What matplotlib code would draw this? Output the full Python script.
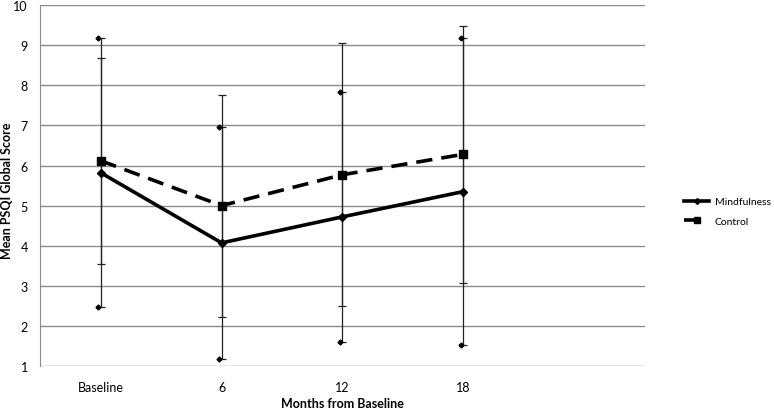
import matplotlib
matplotlib.use("Agg")
import matplotlib.pyplot as plt
from matplotlib.lines import Line2D

plt.rcParams['font.family'] = ['Lato', 'DejaVu Sans']

categories = ["Baseline", "6", "12", "18"]
mind_mean = [5.82, 4.07, 4.72, 5.35]
mind_sd = [3.36, 2.90, 3.12, 3.82]
ctrl_mean = [6.12, 5.00, 5.77, 6.28]
ctrl_sd = [2.57, 2.77, 3.28, 3.20]
yticks = [1, 2, 3, 4, 5, 6, 7, 8, 9, 10]

fig = plt.figure(figsize=(7.74, 4.10), dpi=100)
ax = fig.add_axes([0.052, 0.105, 0.781, 0.880])

x = list(range(len(categories)))

# error bars
ax.errorbar(x, mind_mean, yerr=mind_sd, fmt='none', ecolor='#222222',
            elinewidth=0.9, capsize=3, capthick=0.9, zorder=3)
ax.errorbar(x, ctrl_mean, yerr=ctrl_sd, fmt='none', ecolor='#222222',
            elinewidth=0.9, capsize=3, capthick=0.9, zorder=3)
# diamond markers at mindfulness bar ends
lo = [m - s for m, s in zip(mind_mean, mind_sd)]
hi = [m + s for m, s in zip(mind_mean, mind_sd)]
ax.plot([xi - 0.02 for xi in x], lo, linestyle='none', marker='D', markersize=2.5, color='black', zorder=4)
ax.plot([xi - 0.02 for xi in x], hi, linestyle='none', marker='D', markersize=2.5, color='black', zorder=4)

ax.plot(x, mind_mean, color='black', lw=2.6, marker='D', markersize=4, zorder=5,
        solid_capstyle='butt')
ax.plot(x, ctrl_mean, color='black', lw=2.6, marker='s', markersize=6, zorder=5,
        linestyle=(0, (4.5, 2.5)))

ax.set_xlim(-0.5, 4.5)
ax.set_ylim(1, 10)
ax.set_yticks(yticks)
ax.set_yticklabels([str(t) for t in yticks], fontsize=9)
ax.set_xticks(x)
ax.set_xticklabels(categories, fontsize=9)
ax.tick_params(length=0)
ax.tick_params(axis='y', pad=9)
ax.tick_params(axis='x', pad=11)
ax.grid(axis='y', color='#8c8c8c', lw=1)
ax.set_axisbelow(True)
for s in ['top', 'right', 'bottom']:
    ax.spines[s].set_visible(False)
ax.spines['left'].set_color('#8c8c8c')

fig.text(0.009, 0.534, "Mean PSQI Global Score", rotation=90,
         fontsize=9, fontweight='bold', ha='center', va='center')
ax.set_xlabel("Months from Baseline", fontsize=9, fontweight='bold', labelpad=3)

handles = [Line2D([], [], color='black', lw=2.6, marker='D', markersize=3),
           Line2D([], [], color='black', lw=2.6, marker='s', markersize=5, linestyle=(0, (4.5, 2.5)))]
fig.legend(handles, ["Mindfulness", "Control"], loc='center left',
           bbox_to_anchor=(0.872, 0.482), frameon=False, fontsize=7.5,
           handlelength=2.4, handletextpad=0.5, labelspacing=1.0)

fig.savefig("out.png", dpi=100)
